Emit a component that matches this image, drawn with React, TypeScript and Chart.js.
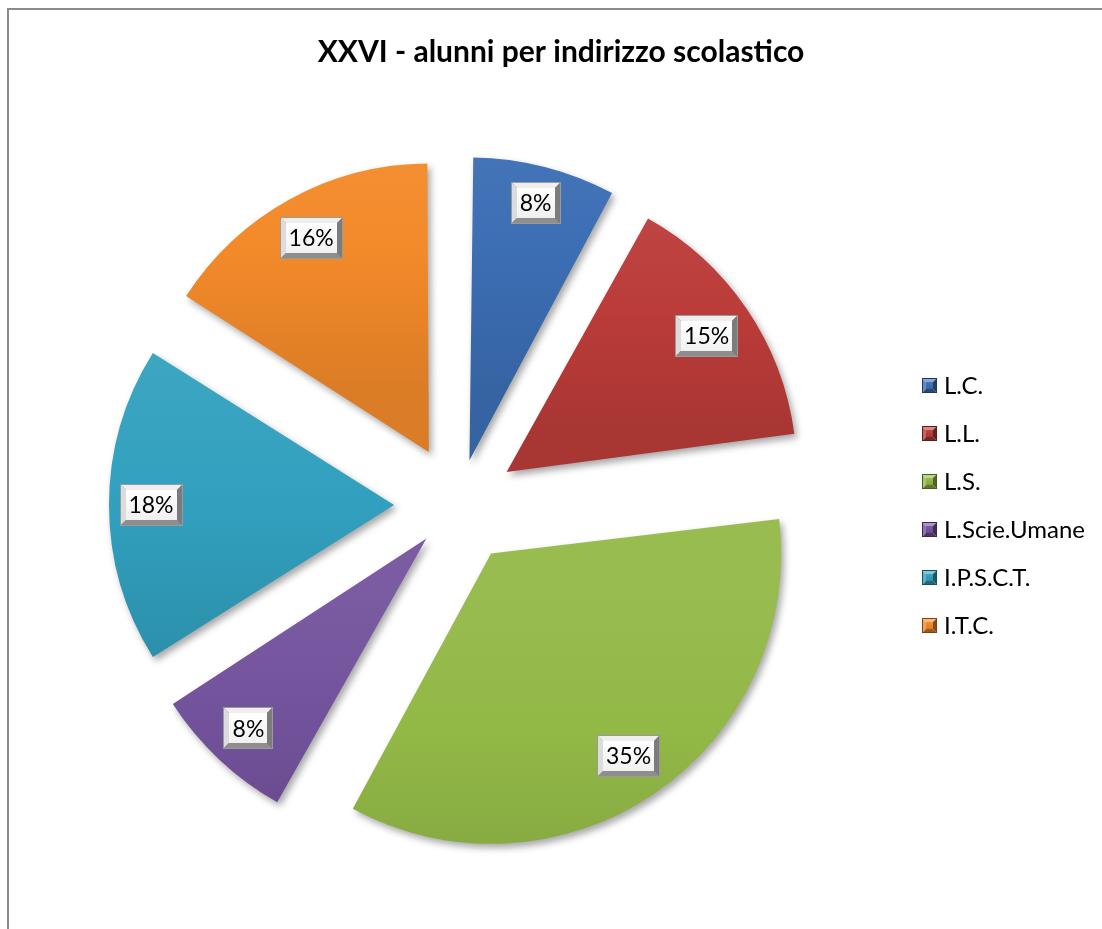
import React, { useEffect, useRef } from "react";
import { Chart, registerables } from "chart.js";

Chart.register(...registerables);

const TITLE = "XXVI - alunni per indirizzo scolastico";
const categories = ["L.C.", "L.L.", "L.S.", "L.Scie.Umane", "I.P.S.C.T.", "I.T.C."];
const shares = [8, 15, 35, 8, 18, 16];
const percentLabels = ["8%", "15%", "35%", "8%", "18%", "16%"];
const sliceColors = ["#3C6EB4", "#BB3C39", "#92B846", "#73529C", "#31A0BE", "#F38A2A"];

const W = 1102;
const H = 929;
const RADIUS = 279;
const EXPLODE = 70;
const FONT = "Lato, 'Open Sans', sans-serif";

function hexToRgb(hex: string) {
  const n = parseInt(hex.slice(1), 16);
  return [(n >> 16) & 255, (n >> 8) & 255, n & 255];
}
function shade(hex: string, f: number) {
  const [r, g, b] = hexToRgb(hex);
  const mix = (c: number) =>
    Math.round(f >= 0 ? c + (255 - c) * f : c * (1 + f));
  return `rgb(${mix(r)},${mix(g)},${mix(b)})`;
}

const total = shares.reduce((a, b) => a + b, 0);
// Chart.js moves an arc by offset/4 * (2 - sin(circumference)); invert so every slice moves EXPLODE px
const sliceOffsets = shares.map((v) => {
  const circ = (v / total) * Math.PI * 2;
  return (EXPLODE * 4) / (2 - Math.sin(Math.min(Math.PI, circ)));
});

function sliceGeometry(chart: any, i: number) {
  const ca = chart.chartArea;
  const cx = (ca.left + ca.right) / 2;
  const cy = (ca.top + ca.bottom) / 2;
  let start = 0;
  for (let k = 0; k < i; k++) start += (shares[k] / total) * Math.PI * 2;
  const end = start + (shares[i] / total) * Math.PI * 2;
  const mid = (start + end) / 2;
  const vx = cx + EXPLODE * Math.sin(mid);
  const vy = cy - EXPLODE * Math.cos(mid);
  let minY = vy;
  let maxY = vy;
  for (let s = 0; s <= 40; s++) {
    const a = start + ((end - start) * s) / 40;
    const y = vy - RADIUS * Math.cos(a);
    minY = Math.min(minY, y);
    maxY = Math.max(maxY, y);
  }
  return { cx, cy, vx, vy, mid, minY, maxY };
}

function drawBevelBox(ctx: CanvasRenderingContext2D, x: number, y: number, w: number, h: number, bevel: number, base: string | null) {
  const light = base ? shade(base, 0.4) : "#eeeeee";
  const left = base ? shade(base, 0.2) : "#dcdcdc";
  const dark = base ? shade(base, -0.35) : "#8e8e8e";
  const right = base ? shade(base, -0.45) : "#7c7c7c";
  const poly = (pts: number[][], color: string) => {
    ctx.beginPath();
    ctx.moveTo(pts[0][0], pts[0][1]);
    for (let k = 1; k < pts.length; k++) ctx.lineTo(pts[k][0], pts[k][1]);
    ctx.closePath();
    ctx.fillStyle = color;
    ctx.fill();
  };
  const b = bevel;
  poly([[x, y], [x + w, y], [x + w - b, y + b], [x + b, y + b]], light);
  poly([[x, y], [x + b, y + b], [x + b, y + h - b], [x, y + h]], left);
  poly([[x, y + h], [x + b, y + h - b], [x + w - b, y + h - b], [x + w, y + h]], dark);
  poly([[x + w, y], [x + w, y + h], [x + w - b, y + h - b], [x + w - b, y + b]], right);
  const g = ctx.createLinearGradient(0, y + b, 0, y + h - b);
  if (base) {
    g.addColorStop(0, shade(base, 0.05));
    g.addColorStop(1, shade(base, -0.1));
  } else {
    g.addColorStop(0, "#ffffff");
    g.addColorStop(1, "#f0f0f0");
  }
  ctx.fillStyle = g;
  ctx.fillRect(x + b, y + b, w - 2 * b, h - 2 * b);
  ctx.strokeStyle = base ? shade(base, -0.5) : "#9a9a9a";
  ctx.lineWidth = 1;
  ctx.strokeRect(x + 0.5, y + 0.5, w - 1, h - 1);
}

const framePlugin = {
  id: "frameAndTitle",
  beforeDraw(chart: any) {
    const ctx = chart.ctx;
    ctx.save();
    ctx.fillStyle = "#ffffff";
    ctx.fillRect(0, 0, W, H);
    ctx.strokeStyle = "#8a8a8a";
    ctx.lineWidth = 2;
    ctx.strokeRect(8, 9, W + 20, H + 20);
    ctx.fillStyle = "#000000";
    ctx.font = `bold 30px ${FONT}`;
    ctx.textAlign = "center";
    ctx.textBaseline = "alphabetic";
    ctx.fillText(TITLE, 561, 62);
    ctx.restore();
  },
  beforeDatasetsDraw(chart: any) {
    const ctx = chart.ctx;
    ctx.save();
    ctx.shadowColor = "rgba(0,0,0,0.35)";
    ctx.shadowBlur = 7;
    ctx.shadowOffsetX = 3;
    ctx.shadowOffsetY = 4;
  },
  afterDatasetsDraw(chart: any) {
    const ctx = chart.ctx;
    ctx.restore();
    ctx.save();
    // data labels
    ctx.font = `23px ${FONT}`;
    ctx.textAlign = "center";
    ctx.textBaseline = "middle";
    const meta = chart.getDatasetMeta(0);
    meta.data.forEach((arc: any, i: number) => {
      const g = sliceGeometry(chart, i);
      const text = percentLabels[i];
      const w = Math.round(ctx.measureText(text).width + 18);
      const h = 42;
      const ux = Math.sin(g.mid);
      const uy = -Math.cos(g.mid);
      const extent = (w / 2) * Math.abs(ux) + (h / 2) * Math.abs(uy);
      const dist = RADIUS - 10.5 - extent;
      const lx = g.vx + ux * dist;
      const ly = g.vy + uy * dist;
      drawBevelBox(ctx, Math.round(lx - w / 2), Math.round(ly - h / 2), w, h, 6, null);
      ctx.fillStyle = "#000000";
      ctx.fillText(text, lx, ly + 1);
    });
    // legend
    ctx.font = `24px ${FONT}`;
    ctx.textAlign = "left";
    categories.forEach((name, i) => {
      const y = 385 + i * 48;
      drawBevelBox(ctx, 922, y - 7, 15, 15, 4, sliceColors[i]);
      ctx.fillStyle = "#000000";
      ctx.fillText(name, 944, y + 1);
    });
    ctx.restore();
  },
};

export default function App() {
  const canvasRef = useRef<HTMLCanvasElement | null>(null);
  useEffect(() => {
    if (!canvasRef.current) return;
    const chart = new Chart(canvasRef.current, {
      type: "pie",
      data: {
        labels: categories,
        datasets: [
          {
            data: shares,
            offset: sliceOffsets,
            borderWidth: 0,
            backgroundColor: (c: any) => {
              const chart = c.chart;
              const i = c.dataIndex;
              const base = sliceColors[i] ?? "#888888";
              if (!chart.chartArea || i === undefined) return base;
              const g = sliceGeometry(chart, i);
              const grad = chart.ctx.createLinearGradient(0, g.minY, 0, g.maxY);
              grad.addColorStop(0, shade(base, 0.06));
              grad.addColorStop(0.5, base);
              grad.addColorStop(1, shade(base, -0.1));
              return grad;
            },
          } as any,
        ],
      },
      options: {
        responsive: false,
        devicePixelRatio: 1,
        animation: false,
        events: [],
        radius: RADIUS,
        layout: { padding: { left: 0, right: 186, top: 81, bottom: 0 } },
        plugins: {
          legend: { display: false },
          title: { display: false },
          tooltip: { enabled: false },
        },
      } as any,
      plugins: [framePlugin],
    });
    return () => chart.destroy();
  }, []);
  return (
    <div style={{ position: "fixed", left: 0, top: 0, width: W, height: H, overflow: "hidden", background: "#fff" }}>
      <canvas ref={canvasRef} width={W} height={H} style={{ display: "block" }} />
    </div>
  );
}
